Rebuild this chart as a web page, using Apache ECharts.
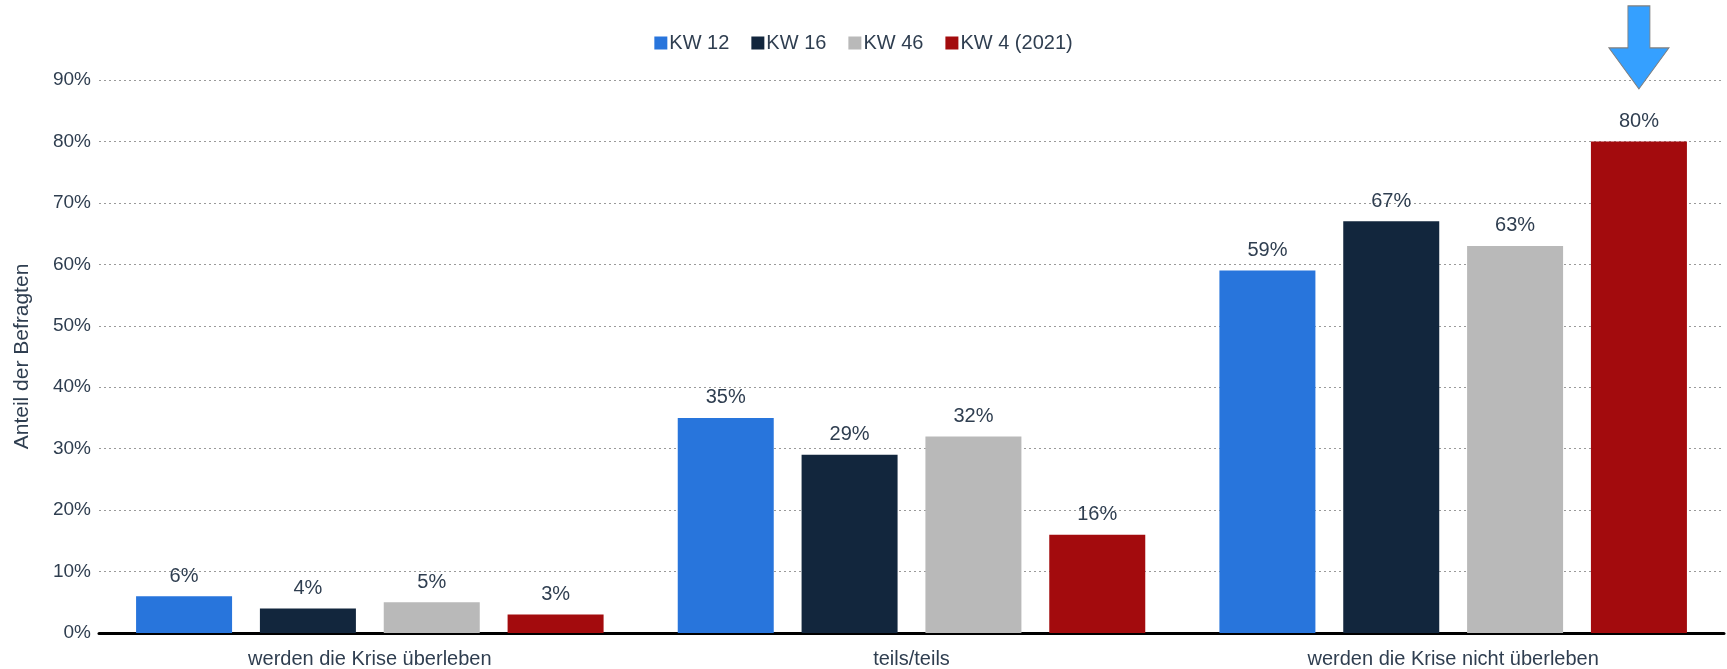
<!DOCTYPE html>
<html>
<head>
<meta charset="utf-8">
<script src="https://cdn.jsdelivr.net/npm/echarts@6/dist/echarts.min.js"></script>
<style>
html,body{margin:0;padding:0;background:#fff;}
#chart{width:1727px;height:669px;}
</style>
</head>
<body>
<div id="chart"></div>
<script>
const categories = ['werden die Krise überleben', 'teils/teils', 'werden die Krise nicht überleben'];
const seriesNames = ['KW 12', 'KW 16', 'KW 46', 'KW 4 (2021)'];
const kw12 = [6, 35, 59];
const kw16 = [4, 29, 67];
const kw46 = [5, 32, 63];
const kw4_2021 = [3, 16, 80];
const yTicks = [0, 10, 20, 30, 40, 50, 60, 70, 80, 90];
const yAxisName = 'Anteil der Befragten';

const colors = ['#2875DC', '#12263D', '#B9B9B9', '#A30B0D'];
const textColor = '#2F3E50';
const font = "'Liberation Sans', Arial, sans-serif";
const values = [kw12, kw16, kw46, kw4_2021];

const series = seriesNames.map((name, i) => {
  const s = {
    name: name,
    type: 'bar',
    data: values[i],
    barWidth: 96,
    barGap: '29%',
    itemStyle: { color: colors[i] },
    label: {
      show: true,
      position: 'top',
      distance: 10,
      formatter: '{c}%',
      color: textColor,
      fontSize: 20,
      fontFamily: font
    }
  };
  if (i === 3) {
    s.markPoint = {
      symbol: 'path://M19,0 L41,0 L41,42 L60,42 L30,83 L0,42 L19,42 Z',
      symbolSize: [60, 83],
      symbolKeepAspect: false,
      symbolOffset: [0, -94],
      itemStyle: { color: '#35A0FF', borderColor: '#7F7F7F', borderWidth: 1 },
      label: { show: false },
      data: [{ coord: [2, kw4_2021[2]] }]
    };
  }
  return s;
});

const chart = echarts.init(document.getElementById('chart'), null, { renderer: 'canvas' });
chart.setOption({
  animation: false,
  backgroundColor: '#fff',
  textStyle: { fontFamily: font },
  legend: {
    data: seriesNames,
    top: 28,
    left: 'center',
    icon: 'rect',
    itemWidth: 13,
    itemHeight: 13,
    itemGap: 22,
    textStyle: { color: textColor, fontSize: 20, fontFamily: font, padding: [0, 0, 0, -3] }
  },
  grid: { left: 99, right: 3, top: 80, bottom: 35, containLabel: false },
  xAxis: {
    type: 'category',
    data: categories,
    axisLine: { show: true, lineStyle: { color: '#000', width: 3 } },
    axisTick: { show: false },
    axisLabel: { color: textColor, fontSize: 20, fontFamily: font, margin: 16 }
  },
  yAxis: {
    type: 'value',
    min: yTicks[0],
    max: yTicks[yTicks.length - 1],
    interval: 10,
    name: yAxisName,
    nameLocation: 'middle',
    nameGap: 66,
    nameRotate: 90,
    nameTextStyle: { color: textColor, fontSize: 21, fontFamily: font },
    axisLine: { show: false },
    axisTick: { show: false },
    axisLabel: { color: textColor, fontSize: 19, fontFamily: font, margin: 8, formatter: '{value}%' },
    splitLine: { show: true, lineStyle: { color: '#9A9A9A', type: [2, 3], width: 1 } }
  },
  series: series
});
</script>
</body>
</html>
